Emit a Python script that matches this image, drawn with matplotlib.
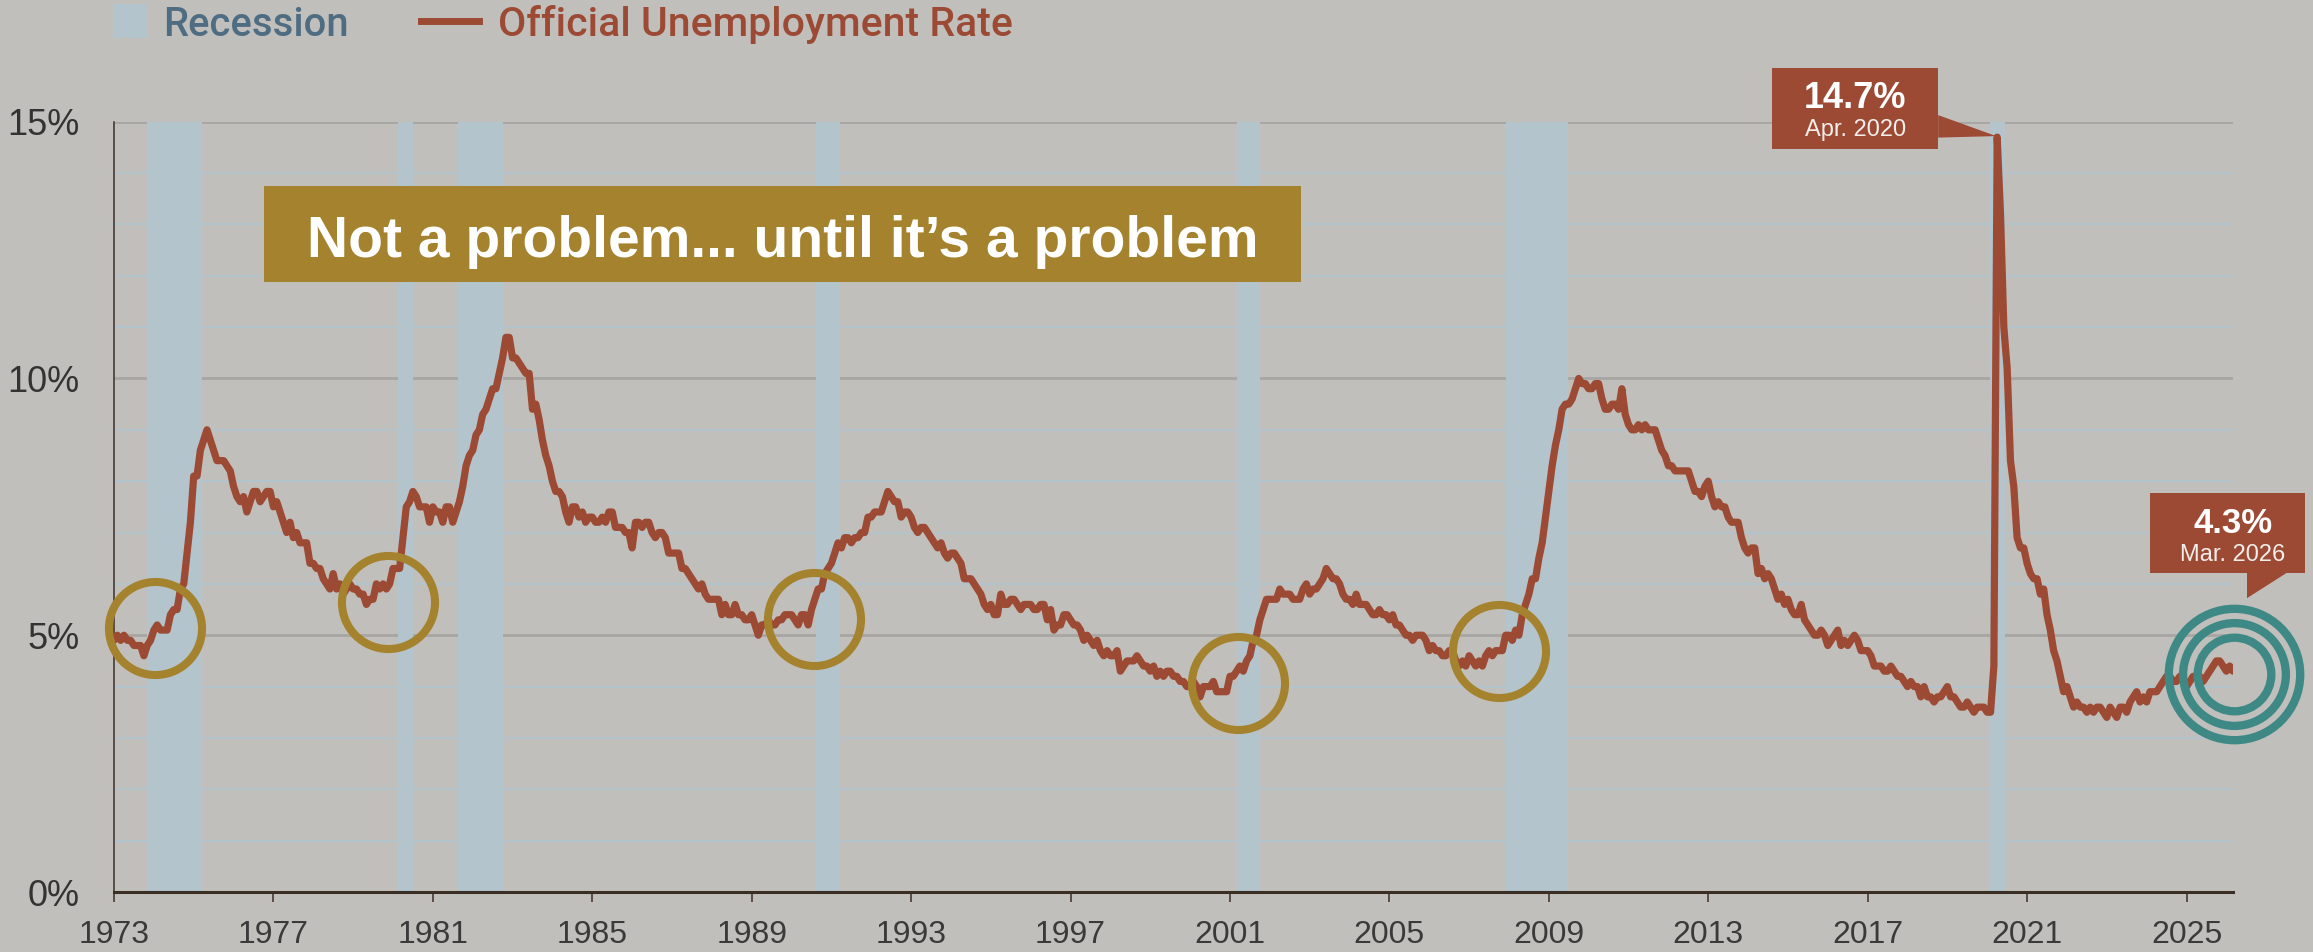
import matplotlib
matplotlib.use("Agg")
import matplotlib.pyplot as plt
import matplotlib.transforms as mtransforms
from matplotlib.patches import Rectangle, Polygon
import numpy as np
import pandas as pd

plt.rcParams['font.family'] = ['Liberation Sans', 'DejaVu Sans']

# monthly official unemployment rate (%), Jan 1973 .. Mar 2026
rate_1970s = [
    4.9, 5.0, 4.9, 5.0, 4.9, 4.9, 4.8, 4.8, 4.8, 4.6, 4.8, 4.9,   # 1973
    5.1, 5.2, 5.1, 5.1, 5.1, 5.4, 5.5, 5.5, 5.9, 6.0, 6.6, 7.2,   # 1974
    8.1, 8.1, 8.6, 8.8, 9.0, 8.8, 8.6, 8.4, 8.4, 8.4, 8.3, 8.2,   # 1975
    7.9, 7.7, 7.6, 7.7, 7.4, 7.6, 7.8, 7.8, 7.6, 7.7, 7.8, 7.8,   # 1976
    7.5, 7.6, 7.4, 7.2, 7.0, 7.2, 6.9, 7.0, 6.8, 6.8, 6.8, 6.4,   # 1977
    6.4, 6.3, 6.3, 6.1, 6.0, 5.9, 6.2, 5.9, 6.0, 5.8, 5.9, 6.0,   # 1978
    5.9, 5.9, 5.8, 5.8, 5.6, 5.7, 5.7, 6.0, 5.9, 6.0, 5.9, 6.0,   # 1979
]
rate_1980s = [
    6.3, 6.3, 6.3, 6.9, 7.5, 7.6, 7.8, 7.7, 7.5, 7.5, 7.5, 7.2,
    7.5, 7.4, 7.4, 7.2, 7.5, 7.5, 7.2, 7.4, 7.6, 7.9, 8.3, 8.5,
    8.6, 8.9, 9.0, 9.3, 9.4, 9.6, 9.8, 9.8, 10.1, 10.4, 10.8, 10.8,
    10.4, 10.4, 10.3, 10.2, 10.1, 10.1, 9.4, 9.5, 9.2, 8.8, 8.5, 8.3,
    8.0, 7.8, 7.8, 7.7, 7.4, 7.2, 7.5, 7.5, 7.3, 7.4, 7.2, 7.3,
    7.3, 7.2, 7.2, 7.3, 7.2, 7.4, 7.4, 7.1, 7.1, 7.1, 7.0, 7.0,
    6.7, 7.2, 7.2, 7.1, 7.2, 7.2, 7.0, 6.9, 7.0, 7.0, 6.9, 6.6,
    6.6, 6.6, 6.6, 6.3, 6.3, 6.2, 6.1, 6.0, 5.9, 6.0, 5.8, 5.7,
    5.7, 5.7, 5.7, 5.4, 5.6, 5.4, 5.4, 5.6, 5.4, 5.4, 5.3, 5.3,
    5.4, 5.2, 5.0, 5.2, 5.2, 5.3, 5.2, 5.2, 5.3, 5.3, 5.4, 5.4,
]
rate_1990s = [
    5.4, 5.3, 5.2, 5.4, 5.4, 5.2, 5.5, 5.7, 5.9, 5.9, 6.2, 6.3,
    6.4, 6.6, 6.8, 6.7, 6.9, 6.9, 6.8, 6.9, 6.9, 7.0, 7.0, 7.3,
    7.3, 7.4, 7.4, 7.4, 7.6, 7.8, 7.7, 7.6, 7.6, 7.3, 7.4, 7.4,
    7.3, 7.1, 7.0, 7.1, 7.1, 7.0, 6.9, 6.8, 6.7, 6.8, 6.6, 6.5,
    6.6, 6.6, 6.5, 6.4, 6.1, 6.1, 6.1, 6.0, 5.9, 5.8, 5.6, 5.5,
    5.6, 5.4, 5.4, 5.8, 5.6, 5.6, 5.7, 5.7, 5.6, 5.5, 5.6, 5.6,
    5.6, 5.5, 5.5, 5.6, 5.6, 5.3, 5.5, 5.1, 5.2, 5.2, 5.4, 5.4,
    5.3, 5.2, 5.2, 5.1, 4.9, 5.0, 4.9, 4.8, 4.9, 4.7, 4.6, 4.7,
    4.6, 4.6, 4.7, 4.3, 4.4, 4.5, 4.5, 4.5, 4.6, 4.5, 4.4, 4.4,
    4.3, 4.4, 4.2, 4.3, 4.2, 4.3, 4.3, 4.2, 4.2, 4.1, 4.1, 4.0,
]
rate_2000s = [
    4.0, 4.1, 4.0, 3.8, 4.0, 4.0, 4.0, 4.1, 3.9, 3.9, 3.9, 3.9,
    4.2, 4.2, 4.3, 4.4, 4.3, 4.5, 4.6, 4.9, 5.0, 5.3, 5.5, 5.7,
    5.7, 5.7, 5.7, 5.9, 5.8, 5.8, 5.8, 5.7, 5.7, 5.7, 5.9, 6.0,
    5.8, 5.9, 5.9, 6.0, 6.1, 6.3, 6.2, 6.1, 6.1, 6.0, 5.8, 5.7,
    5.7, 5.6, 5.8, 5.6, 5.6, 5.6, 5.5, 5.4, 5.4, 5.5, 5.4, 5.4,
    5.3, 5.4, 5.2, 5.2, 5.1, 5.0, 5.0, 4.9, 5.0, 5.0, 5.0, 4.9,
    4.7, 4.8, 4.7, 4.7, 4.6, 4.6, 4.7, 4.7, 4.5, 4.4, 4.5, 4.4,
    4.6, 4.5, 4.4, 4.5, 4.4, 4.6, 4.7, 4.6, 4.7, 4.7, 4.7, 5.0,
    5.0, 4.9, 5.1, 5.0, 5.4, 5.6, 5.8, 6.1, 6.1, 6.5, 6.8, 7.3,
    7.8, 8.3, 8.7, 9.0, 9.4, 9.5, 9.5, 9.6, 9.8, 10.0, 9.9, 9.9,
]
rate_2010s = [
    9.8, 9.8, 9.9, 9.9, 9.6, 9.4, 9.4, 9.5, 9.5, 9.4, 9.8, 9.3,
    9.1, 9.0, 9.0, 9.1, 9.0, 9.1, 9.0, 9.0, 9.0, 8.8, 8.6, 8.5,
    8.3, 8.3, 8.2, 8.2, 8.2, 8.2, 8.2, 8.0, 7.8, 7.8, 7.7, 7.9,
    8.0, 7.7, 7.5, 7.6, 7.5, 7.5, 7.3, 7.2, 7.2, 7.2, 6.9, 6.7,
    6.6, 6.7, 6.7, 6.2, 6.3, 6.1, 6.2, 6.1, 5.9, 5.7, 5.8, 5.6,
    5.7, 5.5, 5.4, 5.4, 5.6, 5.3, 5.2, 5.1, 5.0, 5.0, 5.1, 5.0,
    4.8, 4.9, 5.0, 5.1, 4.8, 4.9, 4.8, 4.9, 5.0, 4.9, 4.7, 4.7,
    4.7, 4.6, 4.4, 4.4, 4.4, 4.3, 4.3, 4.4, 4.3, 4.2, 4.2, 4.1,
    4.0, 4.1, 4.0, 4.0, 3.8, 4.0, 3.8, 3.8, 3.7, 3.8, 3.8, 3.9,
    4.0, 3.8, 3.8, 3.7, 3.6, 3.6, 3.7, 3.6, 3.5, 3.6, 3.6, 3.6,
]
rate_2020s = [
    3.5, 3.5, 4.4, 14.7, 13.2, 11.0, 10.2, 8.4, 7.9, 6.9, 6.7, 6.7,
    6.4, 6.2, 6.1, 6.1, 5.8, 5.9, 5.4, 5.1, 4.7, 4.5, 4.2, 3.9,
    4.0, 3.8, 3.6, 3.7, 3.6, 3.6, 3.5, 3.6, 3.5, 3.6, 3.6, 3.5,
    3.4, 3.6, 3.5, 3.4, 3.6, 3.6, 3.5, 3.7, 3.8, 3.9, 3.7, 3.8,
    3.7, 3.9, 3.9, 3.9, 4.0, 4.1, 4.2, 4.2, 4.1, 4.1, 4.2, 4.1,
    4.0, 4.1, 4.2, 4.2, 4.2, 4.1, 4.2, 4.3, 4.4, 4.5, 4.5, 4.4,
    4.3, 4.4, 4.3,
]

# recessions (decimal years)
rec_start = [1973.83, 1980.13, 1981.62, 1990.62, 2001.17, 2007.92, 2020.08]
rec_end = [1975.21, 1980.50, 1982.75, 1991.22, 2001.75, 2009.48, 2020.44]

# gold highlight rings
ring_x = [1974.03, 1979.87, 1990.57, 2001.19, 2007.74]
ring_y = [5.14, 5.65, 5.31, 4.07, 4.70]

xtick_years = list(range(1973, 2026, 4))
yticks = [0, 5, 10, 15]

rate = np.array(rate_1970s + rate_1980s + rate_1990s + rate_2000s + rate_2010s + rate_2020s)
dates = pd.date_range('1973-01-01', periods=len(rate), freq='MS')
t = dates.year + (dates.month - 1) / 12.0

BG = '#c1bfbb'
RED = '#9d4a35'
BLUE_BAR = '#b3c4cd'
GOLD = '#a5822d'
TEAL = '#3e8986'
W, H = 2313, 952

fig = plt.figure(figsize=(W / 100, H / 100), dpi=100, facecolor=BG)
ax = fig.add_axes([114 / W, 1 - 892 / H, (2233 - 114) / W, (892 - 121.7) / H])
ax.set_facecolor(BG)

for s, e in zip(rec_start, rec_end):
    ax.axvspan(s, e, color=BLUE_BAR, lw=0, zorder=1)

ax.plot(t, rate, color=RED, lw=5.2, solid_joinstyle='round', solid_capstyle='round', zorder=3)

ax.plot(ring_x, ring_y, 'o', ms=67, mfc='none', mec=GOLD, mew=5.8, zorder=4, clip_on=False)

# teal target rings at latest reading
shift = mtransforms.ScaledTranslation(0.01, -0.03, fig.dpi_scale_trans)
for ms in [94.6, 74, 53]:
    ax.plot([t[-1]], [rate[-1]], 'o', ms=ms, mfc='none', mec=TEAL, mew=6,
            transform=ax.transData + shift, zorder=4, clip_on=False)

ax.set_xlim(t[0], t[-1])
ax.set_ylim(0, 15)
ax.set_xticks(xtick_years)
ax.set_xticklabels([str(y) for y in xtick_years])
ax.set_yticks(yticks)
ax.set_yticklabels([f'{v}%' for v in yticks])
ax.set_yticks([v for v in range(1, 15) if v % 5], minor=True)
ax.set_axisbelow(True)
ax.grid(axis='y', which='major', color='#a8a6a2', lw=2.0)
ax.grid(axis='y', which='minor', color='#b3c3cc', lw=1.5)
ax.tick_params(axis='y', which='both', length=0, pad=25, labelsize=26, labelcolor='#333333')
ax.tick_params(axis='x', which='major', direction='out', length=7.5, width=1.1, color='#3b2f25',
               pad=13, labelsize=23, labelcolor='#3a3a3a')
for side in ['top', 'right']:
    ax.spines[side].set_visible(False)
ax.spines['bottom'].set_color('#3b2f25')
ax.spines['bottom'].set_linewidth(2.2)
ax.spines['bottom'].set_zorder(5)
ax.spines['left'].set_color('#3b2f25')
ax.spines['left'].set_linewidth(1.1)

# legend
legend_font = ['Roboto', 'Liberation Sans', 'DejaVu Sans']
fig.add_artist(Rectangle((113 / W, 1 - 38 / H), 35 / W, 34 / H, transform=fig.transFigure,
                         color=BLUE_BAR, lw=0))
fig.text(163 / W, 1 - 36 / H, 'Recession', color='#4e6d83', fontsize=28.8, va='baseline',
         family=legend_font, fontweight='medium')
fig.add_artist(plt.Line2D([421 / W, 479 / W], [1 - 21 / H, 1 - 21 / H], transform=fig.transFigure,
                          color=RED, lw=5))
fig.text(498 / W, 1 - 36 / H, 'Official Unemployment Rate', color=RED, fontsize=29.5, va='baseline',
         family=legend_font, fontweight='medium')

# title box
fig.add_artist(Rectangle((264 / W, 1 - 282 / H), 1037 / W, 96 / H, transform=fig.transFigure,
                         color=GOLD, lw=0))
fig.text(783 / W, 1 - 257 / H, 'Not a problem... until it\u2019s a problem', color='white',
         fontsize=41, fontweight='bold', ha='center', va='baseline')


def callout(x, y, box, tri, big, small, big_y, small_y, cx, big_fs, small_fs):
    tr = fig.dpi_scale_trans + mtransforms.ScaledTranslation(x, y, ax.transData)
    ax.add_patch(Rectangle((box[0], box[1]), box[2], box[3], transform=tr, color=RED, lw=0,
                           clip_on=False, zorder=6))
    ax.add_patch(Polygon(tri, closed=True, transform=tr, color=RED, lw=0, clip_on=False, zorder=6))
    ax.text(cx, big_y, big, transform=tr, color='white', fontsize=big_fs, fontweight='bold',
            ha='center', va='baseline', zorder=7)
    ax.text(cx, small_y, small, transform=tr, color='#f3eeeb', fontsize=small_fs,
            ha='center', va='baseline', zorder=7)


i_peak = int(np.argmax(rate))
callout(t[i_peak], rate[i_peak], (-2.25, -0.12, 1.66, 0.81),
        [(-0.59, 0.22), (-0.59, -0.005), (-0.01, 0.01)],
        f'{rate[i_peak]:.1f}%', 'Apr. 2020', 0.287, 0.01, -1.42, 26, 17)
callout(t[-1], rate[-1], (-0.83, 0.98, 1.55, 0.80),
        [(0.14, 0.985), (0.54, 0.985), (0.14, 0.73)],
        f'{rate[-1]:.1f}%', 'Mar. 2026', 1.385, 1.10, 0.0, 25, 17)

fig.savefig('out.png', dpi=100, facecolor=BG)
